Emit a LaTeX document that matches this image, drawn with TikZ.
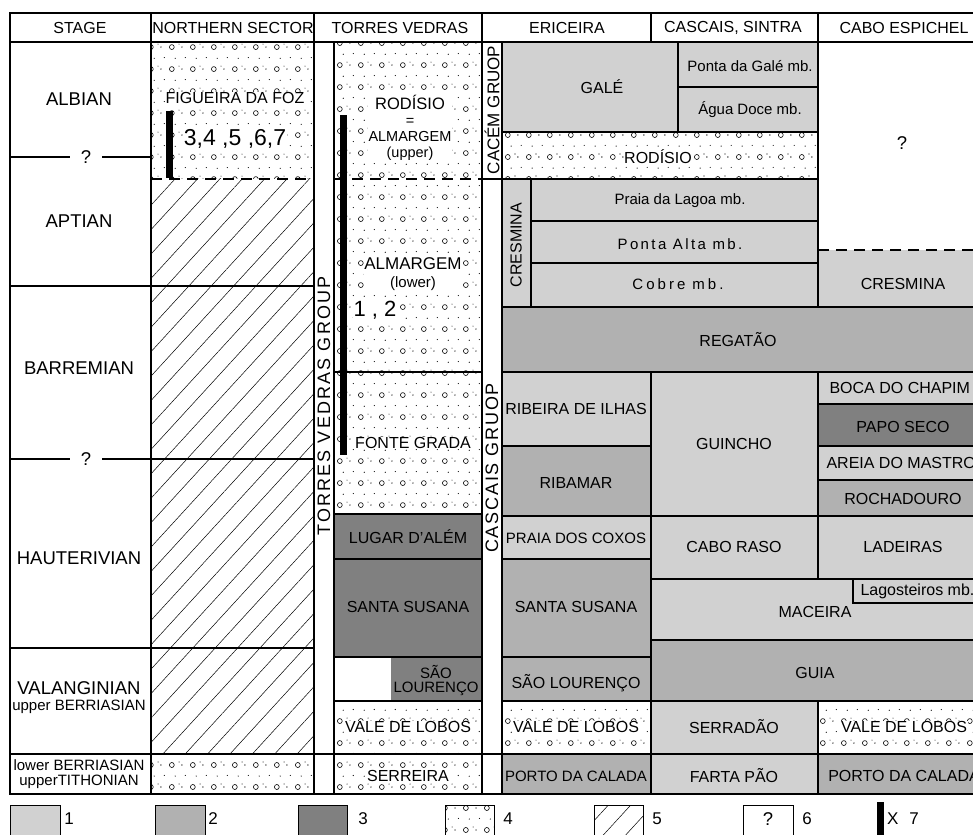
\documentclass[tikz,border=0pt]{standalone}
\usepackage{fontspec}
\setmainfont{Liberation Sans}
\usepackage{xcolor}
\usepackage{tikz}
\usetikzlibrary{patterns.meta}

\definecolor{lightrock}{RGB}{209,209,209}
\definecolor{midrock}{RGB}{177,177,177}
\definecolor{darkrock}{RGB}{128,128,128}

% sandstone with pebbles
\tikzdeclarepattern{
  name=gravel,
  bounding box={(0pt,0pt) and (21pt,21.7pt)},
  tile size={(21pt,21.7pt)},
  code={
    \draw[line width=0.6pt] (4pt,4pt) circle (2.5pt);
    \fill (14.5pt,4pt) circle (0.7pt);
    \fill (11.5pt,7pt) circle (0.55pt);
    \fill (7.5pt,14.9pt) circle (0.6pt);
    \fill (18pt,15.6pt) circle (0.6pt);
  }
}

\begin{document}
\begin{tikzpicture}[x=1pt,y=-1pt,
  outline/.style={line width=1.6pt},
  rule/.style={line width=1.1pt},
  hiatus/.style={rule,dash pattern=on 11pt off 7pt},
  hdr/.style={font=\fontsize{16}{16}\selectfont},
  stage/.style={font=\fontsize{18.5}{19}\selectfont},
  fm/.style={font=\fontsize{16}{17}\selectfont,align=center},
  mb/.style={font=\fontsize{15}{15}\selectfont},
  onsand/.style={fill=white,inner sep=0.5pt},
  grp/.style={rotate=90,font=\fontsize{18}{18}\selectfont},
  keytext/.style={font=\fontsize{17}{17}\selectfont}]

\useasboundingbox (0,0) rectangle (973,834);
\clip (0,0) rectangle (973,834);

% sandstones and conglomerates
\fill[pattern=gravel] (151,42) rectangle (314,179);
\fill[pattern=gravel] (151,754) rectangle (314,794);
\fill[pattern=gravel] (334,42) rectangle (482,514);
\fill[pattern=gravel] (334,701) rectangle (482,794);
\fill[pattern=gravel] (502,132) rectangle (818,179);
\fill[pattern=gravel] (502,701) rectangle (651,754);
\fill[pattern=gravel] (818,701) rectangle (990,754);
% no record
\fill[pattern={Lines[angle=47.5,distance=16.5pt,line width=0.5pt]}] (151,179) rectangle (314,754);

% Ericeira, Cascais-Sintra and Cabo Espichel
\draw[rule,fill=lightrock] (502,42) rectangle (678,132);
\draw[rule,fill=lightrock] (678,42) rectangle (818,87);
\draw[rule,fill=lightrock] (678,87) rectangle (818,132);
\draw[rule] (502,132) rectangle (818,179);
\draw[rule,fill=lightrock] (502,179) rectangle (531,307);
\draw[rule,fill=lightrock] (531,179) rectangle (818,221);
\draw[rule,fill=lightrock] (531,221) rectangle (818,263);
\draw[rule,fill=lightrock] (531,263) rectangle (818,307);
\fill[lightrock] (818,250) rectangle (990,307);
\draw[hiatus] (818,250) -- (990,250);
\draw[rule,fill=midrock] (502,307) rectangle (990,372);
\draw[rule,fill=lightrock] (502,372) rectangle (651,446);
\draw[rule,fill=midrock] (502,446) rectangle (651,516);
\draw[rule,fill=lightrock] (502,516) rectangle (651,559);
\draw[rule,fill=midrock] (502,559) rectangle (651,657);
\draw[rule,fill=midrock] (502,657) rectangle (651,701);
\draw[rule] (502,701) rectangle (651,754);
\draw[rule,fill=midrock] (502,754) rectangle (651,794);
\draw[rule,fill=lightrock] (651,372) rectangle (818,516);
\draw[rule,fill=lightrock] (651,516) rectangle (818,579);
\draw[rule,fill=lightrock] (651,579) rectangle (990,640);
\draw[rule,fill=lightrock] (853,579) rectangle (990,603);
\draw[rule,fill=midrock] (651,640) rectangle (990,701);
\draw[rule,fill=lightrock] (651,701) rectangle (818,754);
\draw[rule,fill=lightrock] (651,754) rectangle (818,794);
\draw[rule,fill=lightrock] (818,372) rectangle (990,404);
\draw[rule,fill=darkrock] (818,404) rectangle (990,446);
\draw[rule,fill=lightrock] (818,446) rectangle (990,480);
\draw[rule,fill=midrock] (818,480) rectangle (990,516);
\draw[rule,fill=lightrock] (818,516) rectangle (990,579);
\draw[rule] (818,701) rectangle (990,754);
\draw[rule,fill=midrock] (818,754) rectangle (990,794);

% Torres Vedras
\draw[rule,fill=darkrock] (334,514) rectangle (482,559);
\draw[rule,fill=darkrock] (334,559) rectangle (482,657);
\fill[darkrock] (391,657) rectangle (482,701);
\draw[rule] (334,657) rectangle (482,701);
\draw[rule] (334,372) -- (482,372);
\draw[hiatus] (334,179) -- (482,179);
\draw[rule] (482,179) -- (502,179);

% columns and stage boundaries
\draw[rule] (151,13) -- (151,794);
\draw[rule] (314,13) -- (314,794);
\draw[rule] (334,42) -- (334,794);
\draw[rule] (482,13) -- (482,794);
\draw[rule] (502,42) -- (502,794);
\draw[rule] (651,13) -- (651,42);
\draw[rule] (818,13) -- (818,307);
\draw[hiatus] (151,179) -- (314,179);
\node[stage,inner xsep=11pt,inner ysep=0pt] (q1) at (86,157) {?};
\node[stage,inner xsep=11pt,inner ysep=0pt] (q2) at (86,459) {?};
\draw[rule] (10,157) -- (q1) -- (151,157);
\draw[rule] (10,286) -- (314,286);
\draw[rule] (10,459) -- (q2) -- (314,459);
\draw[rule] (10,648) -- (314,648);
\draw[rule] (10,754) -- (990,754);
\draw[outline] (10,13) rectangle (990,794);
\draw[outline] (10,42) -- (990,42);

% sampled levels
\fill (166,111) rectangle (173,178);
\fill (340,115) rectangle (347,455);

% headings
\node[hdr] (hstage) at (80,28) {STAGE};
\node[hdr] (hnorth) at (233,28) {NORTHERN SECTOR};
\node[hdr] (htorres) at (400,28) {TORRES VEDRAS};
\node[hdr] (hericeira) at (567,28) {ERICEIRA};
\node[hdr] (hsintra) at (733,28) {CASCAIS, SINTRA};
\node[hdr] (hcabo) at (904,28) {CABO ESPICHEL};

% stages
\node[stage] (albian) at (79,99) {ALBIAN};
\node[stage] (aptian) at (79,221) {APTIAN};
\node[stage] (barremian) at (79,368) {BARREMIAN};
\node[stage] (hauterivian) at (79,558) {HAUTERIVIAN};
\node[stage] (valanginian) at (79,688) {VALANGINIAN};
\node[font=\fontsize{15}{15}\selectfont] (uberriasian) at (79,707) {upper BERRIASIAN};
\node[font=\fontsize{15}{15}\selectfont,align=center] (tithonian) at (79,774) {lower BERRIASIAN\\upperTITHONIAN};

% northern sector
\node[fm,onsand] (figueira) at (235,98) {FIGUEIRA DA FOZ};
\node[onsand,font=\fontsize{23}{23}\selectfont] (sites1) at (235,139) {3,4 ,5 ,6,7};

% Torres Vedras
\node[grp,font=\fontsize{18}{18}\selectfont\addfontfeature{LetterSpace=12}] (tvgroup) at (324,406) {TORRES VEDRAS GROUP};
\node[onsand,align=center,font=\fontsize{14.5}{16}\selectfont] (rodisio1) at (410,128) {{\fontsize{16.5}{16}\selectfont RODÍSIO}\\=\\ALMARGEM\\(upper)};
\node[onsand,align=center,font=\fontsize{17}{18}\selectfont] (almargem) at (413,274) {ALMARGEM\\{\fontsize{15}{15}\selectfont(lower)}};
\node[onsand,font=\fontsize{22}{22}\selectfont] (sites2) at (375,310) {1 , 2};
\node[fm,onsand] (fontegrada) at (413,443) {FONTE GRADA};
\node[fm] (lugar) at (408,537) {LUGAR D'ALÉM};
\node[fm] (santasusana1) at (408,607) {SANTA SUSANA};
\node[mb,align=center,font=\fontsize{15}{14}\selectfont] (saolourenco1) at (436,680) {SÃO\\LOURENÇO};
\node[fm,onsand] (valelobos1) at (408,727) {VALE DE LOBOS};
\node[fm,onsand] (serreira) at (408,776) {SERREIRA};

% groups
\node[grp,font=\fontsize{17}{17}\selectfont] (cacem) at (492,110) {CACÉM GRUOP};
\node[grp,font=\fontsize{18}{18}\selectfont\addfontfeature{LetterSpace=10}] (cascais) at (492,468) {CASCAIS GRUOP};

% Ericeira
\node[fm] (gale) at (602,87) {GALÉ};
\node[mb] (pontagale) at (750,66) {Ponta da Galé mb.};
\node[mb] (aguadoce) at (750,110) {Água Doce mb.};
\node[fm,onsand] (rodisio2) at (658,157) {RODÍSIO};
\node[grp,font=\fontsize{16}{16}\selectfont] (cresmina1) at (516,245) {CRESMINA};
\node[mb] (lagoa) at (680,201) {Praia da Lagoa mb.};
\node[mb,font=\fontsize{15}{15}\selectfont\addfontfeature{LetterSpace=16}] (pontaalta) at (680,244) {Ponta Alta mb.};
\node[mb,font=\fontsize{15}{15}\selectfont\addfontfeature{LetterSpace=20}] (cobre) at (678,284) {Cobre mb.};
\node[fm] (regatao) at (738,340) {REGATÃO};
\node[fm] (ribeira) at (576,409) {RIBEIRA DE ILHAS};
\node[fm] (ribamar) at (576,483) {RIBAMAR};
\node[fm,font=\fontsize{15}{15}\selectfont] (coxos) at (576,538) {PRAIA DOS COXOS};
\node[fm] (santasusana2) at (576,607) {SANTA SUSANA};
\node[fm] (saolourenco2) at (576,683) {SÃO LOURENÇO};
\node[fm,onsand] (valelobos2) at (576,727) {VALE DE LOBOS};
\node[fm,font=\fontsize{15}{15}\selectfont] (portocalada1) at (576,776) {PORTO DA CALADA};

% Cascais, Sintra
\node[fm] (guincho) at (734,444) {GUINCHO};
\node[fm] (caboraso) at (734,547) {CABO RASO};
\node[fm] (maceira) at (815,612) {MACEIRA};
\node[mb,font=\fontsize{16}{16}\selectfont,anchor=west] (lagosteiros) at (857,591) {Lagosteiros mb.};
\node[fm] (guia) at (815,673) {GUIA};
\node[fm] (serradao) at (734,727) {SERRADÃO};
\node[fm] (fartapao) at (734,776) {FARTA PÃO};

% Cabo Espichel
\node[stage] (unknown) at (902,143) {?};
\node[fm] (cresmina2) at (903,284) {CRESMINA};
\node[fm,anchor=west] (bocachapim) at (826,388) {BOCA DO CHAPIM};
\node[fm] (paposeco) at (903,427) {PAPO SECO};
\node[fm,anchor=west] (areia) at (823,463) {AREIA DO MASTRO};
\node[fm] (rochadouro) at (903,499) {ROCHADOURO};
\node[fm] (ladeiras) at (903,547) {LADEIRAS};
\node[fm,onsand] (valelobos3) at (904,727) {VALE DE LOBOS};
\node[fm] (portocalada2) at (904,776) {PORTO DA CALADA};

% legend
\draw[line width=0.9pt,fill=lightrock] (10,805) rectangle (60,845);
\draw[line width=0.9pt,fill=midrock] (155,805) rectangle (205,845);
\draw[line width=0.9pt,fill=darkrock] (298,805) rectangle (347,845);
\draw[line width=0.9pt,pattern=gravel] (445,805) rectangle (494,845);
\draw[line width=0.9pt,pattern={Lines[angle=47.5,distance=16.5pt,line width=0.5pt]}] (594,805) rectangle (643,845);
\draw[line width=0.9pt] (743,805) rectangle (793,845);
\fill (877,802) rectangle (884,845);
\node[keytext] (key1) at (69,819) {1};
\node[keytext] (key2) at (213,819) {2};
\node[keytext] (key3) at (363,819) {3};
\node[keytext] (key4) at (508,819) {4};
\node[keytext] (key5) at (657,819) {5};
\node[stage] (keyq) at (768,819) {?};
\node[keytext] (key6) at (807,819) {6};
\node[keytext] (key7) at (903,819) {X\hspace{11pt}7};
\end{tikzpicture}
\end{document}
